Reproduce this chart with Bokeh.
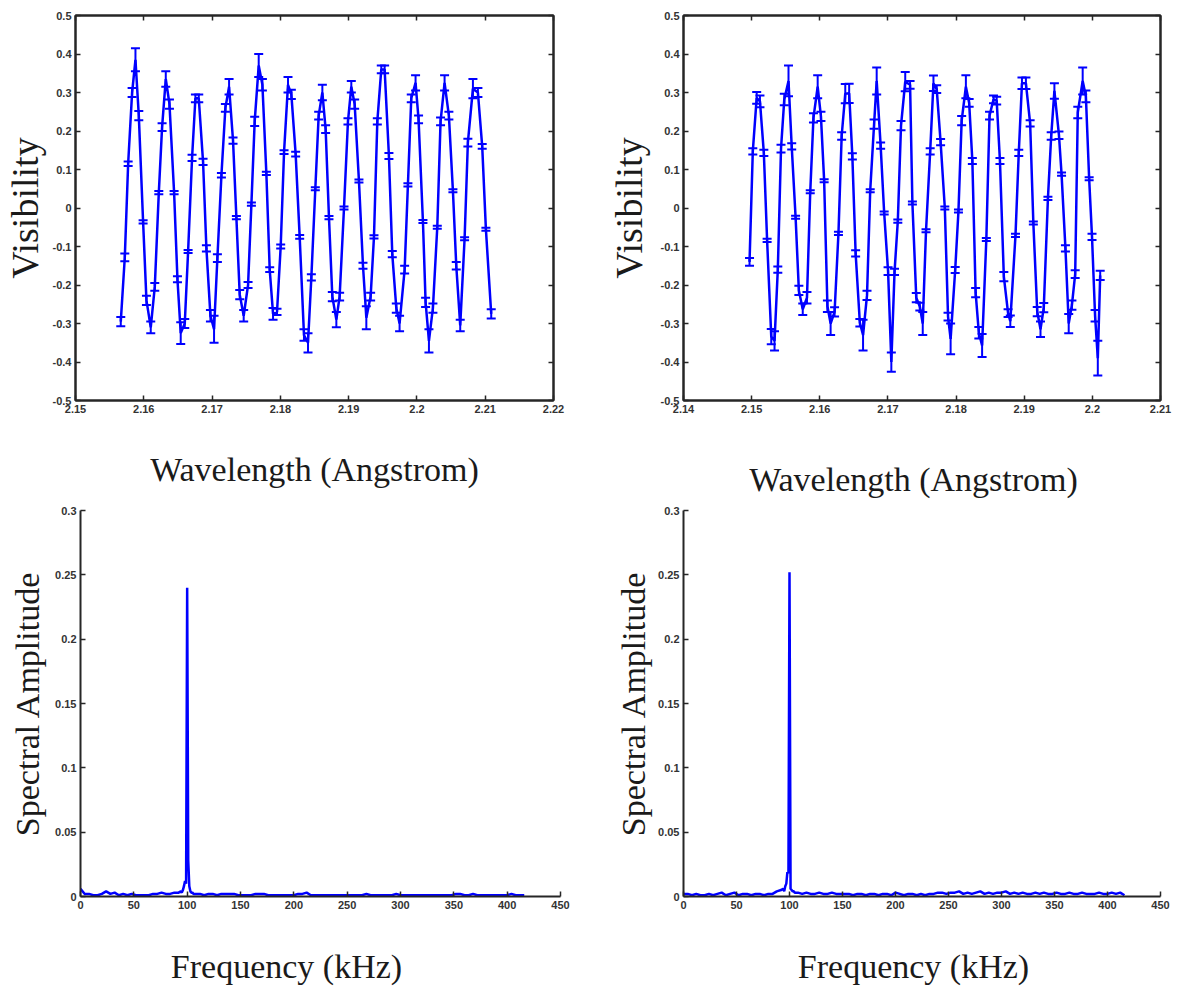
import numpy as np
from bokeh.plotting import figure
from bokeh.models import (ColumnDataSource, Whisker, TeeHead, LinearAxis, FixedTicker,
                          CustomJSTickFormatter, Range1d)
from bokeh.layouts import column, row
from bokeh.embed import file_html
from bokeh.resources import INLINE

# ---------------- data ----------------
TL_WAVELENGTH = [
    2.15663, 2.15722, 2.15771, 2.15829, 2.15878, 2.15927, 2.15990, 2.16039, 2.16102,
    2.16161, 2.16220, 2.16268, 2.16322, 2.16376, 2.16444, 2.16493, 2.16541, 2.16600,
    2.16649, 2.16707, 2.16756, 2.16805, 2.16868, 2.16917, 2.16976, 2.17029,
    2.17078, 2.17137, 2.17195, 2.17249, 2.17307, 2.17356, 2.17405, 2.17463,
    2.17527, 2.17576, 2.17624, 2.17683, 2.17737, 2.17795, 2.17844, 2.17893, 2.17951,
    2.18005, 2.18054, 2.18112, 2.18161, 2.18224, 2.18283, 2.18346, 2.18405,
    2.18454, 2.18512, 2.18561, 2.18615, 2.18663, 2.18712, 2.18761, 2.18820, 2.18868,
    2.18932, 2.18990, 2.19039, 2.19088, 2.19151, 2.19210, 2.19259, 2.19322,
    2.19371, 2.19420, 2.19478, 2.19527, 2.19590, 2.19639, 2.19698, 2.19746,
    2.19820, 2.19868, 2.19917, 2.19980, 2.20024, 2.20088, 2.20127, 2.20176, 2.20234,
    2.20298, 2.20346, 2.20405, 2.20468, 2.20527, 2.20576, 2.20634,
    2.20698, 2.20746, 2.20820, 2.20893, 2.20956, 2.21010, 2.21088]
TL_VISIBILITY = [
    -0.295, -0.128, 0.115, 0.300, 0.385, 0.240, -0.036, -0.240, -0.310,
    -0.205, 0.040, 0.210, 0.335, 0.270, 0.040, -0.185, -0.325, -0.300,
    -0.113, 0.130, 0.285, 0.285, 0.120, -0.105, -0.280, -0.315,
    -0.130, 0.085, 0.260, 0.315, 0.175, -0.025, -0.225, -0.280,
    -0.200, 0.010, 0.225, 0.370, 0.320, 0.090, -0.160, -0.275, -0.270,
    -0.100, 0.145, 0.320, 0.295, 0.140, -0.075, -0.330, -0.350,
    -0.180, 0.050, 0.240, 0.300, 0.205, -0.025, -0.230, -0.290, -0.230,
    0.000, 0.225, 0.315, 0.270, 0.070, -0.150, -0.285, -0.230,
    -0.075, 0.225, 0.360, 0.360, 0.135, -0.120, -0.260, -0.300,
    -0.160, 0.060, 0.285, 0.325, 0.230, -0.035, -0.245, -0.345, -0.260,
    -0.050, 0.225, 0.325, 0.240, 0.045, -0.150, -0.305,
    -0.080, 0.170, 0.310, 0.300, 0.160, -0.055, -0.275]
TL_ERROR = [
    0.012, 0.010, 0.006, 0.012, 0.030, 0.012, 0.004, 0.012, 0.015,
    0.010, 0.004, 0.010, 0.020, 0.012, 0.004, 0.008, 0.028, 0.012,
    0.004, 0.008, 0.010, 0.010, 0.008, 0.008, 0.015, 0.035,
    0.010, 0.006, 0.010, 0.020, 0.008, 0.004, 0.012, 0.015,
    0.008, 0.004, 0.012, 0.030, 0.015, 0.004, 0.006, 0.015, 0.008,
    0.005, 0.005, 0.020, 0.012, 0.006, 0.005, 0.015, 0.025,
    0.008, 0.004, 0.010, 0.020, 0.010, 0.004, 0.012, 0.020, 0.010,
    0.004, 0.008, 0.015, 0.012, 0.004, 0.008, 0.030, 0.010,
    0.004, 0.008, 0.010, 0.010, 0.008, 0.008, 0.012, 0.020,
    0.010, 0.004, 0.010, 0.020, 0.010, 0.004, 0.012, 0.030, 0.012,
    0.004, 0.010, 0.020, 0.010, 0.004, 0.010, 0.015,
    0.004, 0.010, 0.025, 0.012, 0.006, 0.004, 0.012]

TR_WAVELENGTH = [
    2.14969, 2.15017, 2.15074, 2.15122, 2.15179, 2.15227, 2.15288, 2.15336,
    2.15384, 2.15431, 2.15479, 2.15541, 2.15588, 2.15645, 2.15693, 2.15750, 2.15812,
    2.15860, 2.15907, 2.15969, 2.16017, 2.16064, 2.16112, 2.16159, 2.16217,
    2.16274, 2.16321, 2.16374, 2.16431, 2.16478, 2.16526, 2.16588, 2.16635, 2.16693,
    2.16740, 2.16797, 2.16835, 2.16893, 2.16945, 2.17002, 2.17050,
    2.17097, 2.17145, 2.17192, 2.17254, 2.17325,
    2.17359, 2.17416, 2.17468, 2.17511,
    2.17559, 2.17620, 2.17668, 2.17716, 2.17773, 2.17835, 2.17882, 2.17920,
    2.17987, 2.18035, 2.18082, 2.18144, 2.18192, 2.18239, 2.18287, 2.18334, 2.18382,
    2.18444, 2.18491, 2.18549, 2.18596, 2.18644, 2.18701, 2.18763, 2.18796,
    2.18872, 2.18920, 2.18967, 2.19025, 2.19087, 2.19134, 2.19191, 2.19239, 2.19287,
    2.19348, 2.19396, 2.19443, 2.19510, 2.19548, 2.19605, 2.19653, 2.19700,
    2.19748, 2.19786, 2.19858, 2.19905, 2.19953, 2.19995, 2.20040, 2.20080, 2.20115]
TR_VISIBILITY = [
    -0.140, 0.147, 0.286, 0.277, 0.143, -0.084, -0.334, -0.345,
    -0.160, 0.154, 0.282, 0.330, 0.160, -0.024, -0.214, -0.263, -0.233,
    0.042, 0.234, 0.315, 0.238, 0.071, -0.255, -0.300, -0.270,
    -0.066, 0.187, 0.297, 0.298, 0.134, -0.118, -0.298, -0.330, -0.227,
    0.045, 0.218, 0.330, 0.162, -0.013, -0.164, -0.400,
    -0.166, -0.034, 0.214, 0.328, 0.320,
    0.013, -0.233, -0.256, -0.300,
    -0.059, 0.147, 0.324, 0.309, 0.171, 0.000, -0.282, -0.340,
    -0.161, -0.008, 0.227, 0.315, 0.273, 0.122, -0.220, -0.324, -0.357,
    -0.082, 0.240, 0.282, 0.279, 0.122, -0.178, -0.273, -0.294,
    -0.071, 0.143, 0.324, 0.324, 0.220, -0.039, -0.269, -0.315, -0.259,
    0.025, 0.187, 0.304, 0.189, 0.088, -0.105, -0.300, -0.252,
    -0.172, 0.248, 0.330, 0.290, 0.076, -0.075, -0.280, -0.390, -0.175]
TR_ERROR = [
    0.010, 0.008, 0.015, 0.015, 0.008, 0.004, 0.020, 0.025,
    0.008, 0.010, 0.015, 0.040, 0.008, 0.004, 0.012, 0.015, 0.015,
    0.004, 0.012, 0.030, 0.012, 0.004, 0.015, 0.030, 0.012,
    0.004, 0.010, 0.025, 0.025, 0.008, 0.008, 0.010, 0.040, 0.012,
    0.004, 0.012, 0.035, 0.008, 0.004, 0.010, 0.025,
    0.008, 0.004, 0.012, 0.025, 0.010,
    0.004, 0.012, 0.010, 0.030,
    0.004, 0.008, 0.020, 0.010, 0.008, 0.004, 0.010, 0.040,
    0.008, 0.004, 0.012, 0.030, 0.010, 0.008, 0.012, 0.015, 0.030,
    0.004, 0.010, 0.010, 0.010, 0.008, 0.012, 0.010, 0.015,
    0.004, 0.008, 0.015, 0.015, 0.008, 0.004, 0.012, 0.020, 0.012,
    0.004, 0.010, 0.020, 0.010, 0.004, 0.008, 0.025, 0.012,
    0.010, 0.015, 0.035, 0.015, 0.004, 0.008, 0.015, 0.045, 0.012]

FREQ_KHZ = [
    0, 4, 8, 12, 16, 20, 24, 28, 32, 36, 40, 44, 48, 52, 56, 60, 64, 68, 72, 76, 80, 84, 88, 92,
    94, 95, 96, 97, 98, 99, 100, 101, 102, 103, 104, 105, 106,
    108, 112, 116, 120, 124, 128, 132, 136, 140, 144,
    148, 152, 156, 160, 164, 168, 172, 176, 180, 184,
    188, 192, 196, 200, 204, 208, 212, 216, 220, 224,
    228, 232, 236, 240, 244, 248, 252, 256, 260, 264,
    268, 272, 276, 280, 284, 288, 292, 296, 300, 304,
    308, 312, 316, 320, 324, 328, 332, 336, 340, 344,
    348, 352, 356, 360, 364, 368, 372, 376, 380, 384,
    388, 392, 396, 400, 404, 408, 412, 416]
BL_AMPLITUDE = [
    0.006, 0.002, 0.002, 0.001, 0.001, 0.002, 0.004, 0.002, 0.003, 0.001, 0.002, 0.001,
    0.002, 0.001, 0.001, 0.001, 0.001, 0.002, 0.002, 0.003, 0.002, 0.002, 0.003, 0.003,
    0.004, 0.003, 0.005, 0.008, 0.012, 0.010, 0.240, 0.028, 0.008, 0.004, 0.003, 0.003, 0.002,
    0.002, 0.002, 0.001, 0.002, 0.002, 0.001, 0.002, 0.002, 0.002, 0.002,
    0.001, 0.001, 0.001, 0.001, 0.002, 0.002, 0.002, 0.001, 0.001, 0.001,
    0.001, 0.001, 0.001, 0.001, 0.002, 0.002, 0.003, 0.001, 0.001, 0.001,
    0.001, 0.001, 0.001, 0.001, 0.001, 0.001, 0.001, 0.001, 0.001, 0.001,
    0.002, 0.001, 0.001, 0.001, 0.001, 0.001, 0.001, 0.002, 0.001, 0.001,
    0.001, 0.001, 0.001, 0.001, 0.001, 0.001, 0.001, 0.001, 0.001, 0.001,
    0.001, 0.002, 0.002, 0.001, 0.001, 0.002, 0.001, 0.001, 0.001, 0.001,
    0.001, 0.001, 0.001, 0.001, 0.002, 0.001, 0.001, 0.001]
BR_AMPLITUDE = [
    0.002, 0.002, 0.001, 0.002, 0.001, 0.001, 0.002, 0.001, 0.002, 0.003, 0.001, 0.002,
    0.003, 0.001, 0.002, 0.002, 0.001, 0.002, 0.002, 0.001, 0.002, 0.002, 0.004, 0.005,
    0.006, 0.004, 0.008, 0.010, 0.019, 0.018, 0.252, 0.006, 0.005, 0.004, 0.004, 0.003, 0.003,
    0.003, 0.002, 0.003, 0.002, 0.002, 0.003, 0.002, 0.002, 0.003, 0.002,
    0.002, 0.002, 0.002, 0.001, 0.002, 0.002, 0.001, 0.002, 0.002, 0.001,
    0.002, 0.002, 0.001, 0.003, 0.002, 0.001, 0.002, 0.002, 0.001, 0.002,
    0.001, 0.002, 0.002, 0.003, 0.003, 0.002, 0.003, 0.003, 0.004, 0.002,
    0.003, 0.002, 0.003, 0.004, 0.002, 0.003, 0.002, 0.003, 0.003, 0.004,
    0.002, 0.003, 0.002, 0.003, 0.002, 0.002, 0.003, 0.002, 0.003, 0.002,
    0.002, 0.003, 0.002, 0.002, 0.003, 0.002, 0.002, 0.003, 0.002, 0.002,
    0.002, 0.003, 0.002, 0.002, 0.003, 0.002, 0.003, 0.001]

VIS_TICKS = [-0.5, -0.4, -0.3, -0.2, -0.1, 0, 0.1, 0.2, 0.3, 0.4, 0.5]
TL_WL_TICKS = [2.15, 2.16, 2.17, 2.18, 2.19, 2.2, 2.21, 2.22]
TR_WL_TICKS = [2.14, 2.15, 2.16, 2.17, 2.18, 2.19, 2.2, 2.21]
AMP_TICKS = [0, 0.05, 0.1, 0.15, 0.2, 0.25, 0.3]
FREQ_TICKS = [0, 50, 100, 150, 200, 250, 300, 350, 400, 450]

WL_LABEL = "Wavelength (Angstrom)"
VIS_LABEL = "Visibility"
FREQ_LABEL = "Frequency (kHz)"
AMP_LABEL = "Spectral Amplitude"

# ---------------- style ----------------
BLUE = "#0000ff"
AXC = "#262626"
TICK_FONT = "Liberation Sans"
LABEL_FONT = "Liberation Serif"
NBSP = "\u00a0"


def fmt(show=True):
    if show:
        return CustomJSTickFormatter(code="return String(Math.round(tick*1000)/1000);")
    return CustomJSTickFormatter(code="return '';")


def style_axis(ax, ticks, show_labels=True, label_size="34px"):
    ax.ticker = FixedTicker(ticks=ticks)
    ax.formatter = fmt(show_labels)
    ax.major_tick_in = 5
    ax.major_tick_out = 0
    ax.minor_tick_line_color = None
    ax.axis_line_color = AXC
    ax.axis_line_width = 2
    ax.major_tick_line_color = AXC
    ax.major_tick_line_width = 1.5
    ax.major_label_text_font = TICK_FONT
    ax.major_label_text_font_style = "bold"
    if show_labels:
        ax.major_label_text_color = "#333333"
        ax.major_label_text_font_size = "11px"
        ax.major_label_standoff = 4
    else:
        ax.major_label_text_color = None
        ax.major_label_text_font_size = "1px"
        ax.major_label_standoff = 0
    ax.axis_label_text_font = LABEL_FONT
    ax.axis_label_text_font_style = "normal"
    ax.axis_label_text_font_size = label_size
    ax.axis_label_text_color = "#1a1a1a"


def make_panel(width, height, borders, xr, yr, xticks, yticks, xlabel, ylabel, box,
               xstand, ystand, ylabel_size):
    left, right, top, bottom = borders
    p = figure(width=width, height=height, min_border_left=left, min_border_right=right,
               min_border_top=top, min_border_bottom=bottom,
               x_range=Range1d(*xr), y_range=Range1d(*yr),
               output_backend="svg", toolbar_location=None,
               background_fill_color="white", border_fill_color="white")
    p.xgrid.visible = False
    p.ygrid.visible = False
    style_axis(p.xaxis[0], xticks)
    style_axis(p.yaxis[0], yticks, label_size=ylabel_size)
    p.xaxis[0].axis_label = xlabel
    p.yaxis[0].axis_label = ylabel
    p.xaxis[0].axis_label_standoff = xstand
    p.yaxis[0].axis_label_standoff = ystand
    if box:
        p.outline_line_color = AXC
        p.outline_line_width = 2
        top_ax = LinearAxis()
        style_axis(top_ax, xticks, show_labels=False)
        right_ax = LinearAxis()
        style_axis(right_ax, yticks, show_labels=False)
        p.add_layout(top_ax, "above")
        p.add_layout(right_ax, "right")
    else:
        p.outline_line_color = None
    return p


def add_errorbars(p, x, y, err):
    x = np.asarray(x)
    y = np.asarray(y)
    e = np.asarray(err)
    src = ColumnDataSource(dict(x=x, y=y, lo=y - e, hi=y + e))
    p.line("x", "y", source=src, line_color=BLUE, line_width=2.5)
    w = Whisker(source=src, base="x", upper="hi", lower="lo", dimension="height",
                line_color=BLUE, line_width=2,
                upper_head=TeeHead(size=9, line_color=BLUE, line_width=2),
                lower_head=TeeHead(size=9, line_color=BLUE, line_width=2))
    p.add_layout(w)


# top-left
p1 = make_panel(600, 500, (74, 47, 12, 98), (2.15, 2.22), (-0.5, 0.5),
                TL_WL_TICKS, VIS_TICKS, WL_LABEL, VIS_LABEL, True, 35, 4, "38px")
add_errorbars(p1, TL_WAVELENGTH, TL_VISIBILITY, TL_ERROR)

# top-right
p2 = make_panel(601, 500, (83, 41, 15, 93), (2.14, 2.21), (-0.5, 0.5),
                TR_WL_TICKS, VIS_TICKS, WL_LABEL + NBSP * 2, VIS_LABEL, True, 45, 8, "38px")
add_errorbars(p2, TR_WAVELENGTH, TR_VISIBILITY, TR_ERROR)

# bottom-left
p3 = make_panel(600, 494, (80, 40, 10, 98), (0, 450), (0, 0.3),
                FREQ_TICKS, AMP_TICKS, FREQ_LABEL + NBSP * 8, AMP_LABEL, False, 36, 6, "34px")
p3.line(FREQ_KHZ, BL_AMPLITUDE, line_color=BLUE, line_width=2.5)

# bottom-right
p4 = make_panel(601, 494, (83, 41, 10, 98), (0, 450), (0, 0.3),
                FREQ_TICKS, AMP_TICKS, FREQ_LABEL + NBSP * 2, AMP_LABEL, False, 36, 3, "34px")
p4.line(FREQ_KHZ, BR_AMPLITUDE, line_color=BLUE, line_width=2.5)

layout = column(row(p1, p2, spacing=0), row(p3, p4, spacing=0), spacing=0)

with open("out.html", "w") as f:
    f.write(file_html(layout, INLINE))
